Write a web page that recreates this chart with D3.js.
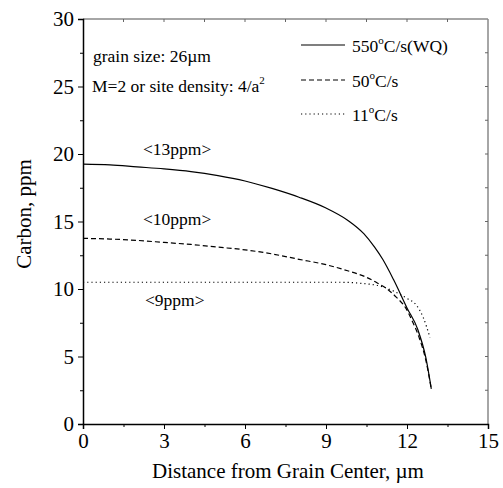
<!DOCTYPE html>
<html>
<head>
<meta charset="utf-8">
<script src="https://cdn.jsdelivr.net/npm/d3@7"></script>
<style>
  body { margin: 0; background: #fff; }
  svg text { font-family: "Liberation Serif", "Times New Roman", serif; fill: #000; }
</style>
</head>
<body>
<svg id="chart" width="503" height="488"></svg>
<script>
// carbon profiles across the grain, one per cooling rate
const distWQ = [0, 1, 2, 3, 4, 5, 6, 7, 8, 9, 9.8, 10.4, 10.8, 11.1, 11.5, 12.0, 12.4, 12.7, 12.9];
const carbonWQ = [19.25, 19.2, 19.05, 18.9, 18.7, 18.4, 18.0, 17.45, 16.8, 16.0, 15.1, 14.1, 13.1, 12.2, 10.7, 8.6, 7.0, 4.9, 2.6];

const dist50 = [0, 1, 2, 3, 4, 5, 6, 7, 8, 9, 9.8, 10.4, 10.9, 11.3, 11.6, 11.95, 12.2, 12.45, 12.7, 12.9];
const carbon50 = [13.75, 13.7, 13.6, 13.45, 13.3, 13.1, 12.9, 12.6, 12.2, 11.8, 11.35, 10.95, 10.45, 9.95, 9.4, 8.6, 7.6, 6.4, 4.7, 2.6];

const dist11 = [0, 2, 4, 6, 8, 9.5, 10.3, 11, 11.5, 12, 12.35, 12.6, 12.85];
const carbon11 = [10.5, 10.5, 10.5, 10.5, 10.5, 10.5, 10.42, 10.22, 9.85, 9.3, 8.8, 7.9, 6.4];

const seriesRates = ['550', '50', '11'];
const seriesSuffix = ['C/s(WQ)', 'C/s', 'C/s'];
const averages = ['<13ppm>', '<10ppm>', '<9ppm>'];

const xTicks = [0, 3, 6, 9, 12, 15];
const yTicks = [0, 5, 10, 15, 20, 25, 30];

const svg = d3.select('#chart');
const x = d3.scaleLinear().domain([0, 15]).range([83, 488]);
const y = d3.scaleLinear().domain([0, 30]).range([424, 19]);

// frame: top/right in grey
svg.append('line').attr('x1', 83).attr('x2', 488).attr('y1', 19).attr('y2', 19)
  .attr('stroke', '#888').attr('stroke-width', 1.5);
svg.append('line').attr('x1', 488).attr('x2', 488).attr('y1', 19).attr('y2', 424)
  .attr('stroke', '#888').attr('stroke-width', 1.5);
svg.append('g').selectAll('line').data(d3.range(1.5, 15, 1.5)).join('line')
  .attr('x1', d => x(d)).attr('x2', d => x(d)).attr('y1', 19).attr('y2', 22)
  .attr('stroke', '#666');
svg.append('g').selectAll('line').data(d3.range(2.5, 30, 2.5)).join('line')
  .attr('x1', 485).attr('x2', 488).attr('y1', d => y(d)).attr('y2', d => y(d))
  .attr('stroke', '#666');

// bottom axis
svg.append('g').attr('transform', 'translate(0,424)')
  .call(d3.axisBottom(x).tickValues(xTicks).tickSize(5).tickPadding(4).tickFormat(d3.format('d')));
svg.append('g').attr('transform', 'translate(0,424)')
  .call(d3.axisBottom(x).tickValues(d3.range(1.5, 15, 3)).tickSize(3).tickFormat(''))
  .select('.domain').remove();

// left axis
svg.append('g').attr('transform', 'translate(83,0)')
  .call(d3.axisLeft(y).tickValues(yTicks).tickSize(5).tickPadding(4).tickFormat(d3.format('d')));
svg.append('g').attr('transform', 'translate(83,0)')
  .call(d3.axisLeft(y).tickValues(d3.range(2.5, 30, 5)).tickSize(3).tickFormat(''))
  .select('.domain').remove();

svg.selectAll('.domain').attr('stroke', '#000').attr('stroke-width', 1.5);
svg.selectAll('.tick line').attr('stroke', '#000');
svg.selectAll('.tick text')
  .attr('font-family', '"Liberation Serif", serif').attr('font-size', 21).attr('fill', '#000');

// axis titles
svg.append('text').attr('x', 288).attr('y', 478).attr('text-anchor', 'middle')
  .attr('font-size', 21).text('Distance from Grain Center, \u00b5m');
svg.append('text').attr('transform', 'translate(31,214) rotate(-90)').attr('text-anchor', 'middle')
  .attr('font-size', 21).text('Carbon, ppm');

// curves
const line = d3.line().x(d => x(d[0])).y(d => y(d[1])).curve(d3.curveMonotoneX);
const series = [
  { pts: d3.zip(distWQ, carbonWQ), dash: null },
  { pts: d3.zip(dist50, carbon50), dash: '5,3' },
  { pts: d3.zip(dist11, carbon11), dash: '1.2,3' }
];
svg.append('g').selectAll('path').data(series).join('path')
  .attr('d', d => line(d.pts))
  .attr('fill', 'none').attr('stroke', '#000').attr('stroke-width', 1.2)
  .attr('stroke-dasharray', d => d.dash);

// average labels
const avgPos = [[143, 155], [143, 225], [145, 306]];
svg.append('g').selectAll('text').data(averages).join('text')
  .attr('x', (d, i) => avgPos[i][0]).attr('y', (d, i) => avgPos[i][1])
  .attr('font-size', 17.5).text(d => d);

// notes
svg.append('text').attr('x', 93).attr('y', 62).attr('font-size', 17.5).text('grain size: 26\u00b5m');
const note2 = svg.append('text').attr('x', 92).attr('y', 92).attr('font-size', 17.5);
note2.append('tspan').text('M=2 or site density: 4/a');
note2.append('tspan').attr('font-size', 11).attr('dy', -8).text('2');

// legend
const legY = [45, 80, 114];
const leg = svg.append('g').selectAll('g').data(seriesRates).join('g')
  .attr('transform', (d, i) => `translate(0,${legY[i]})`);
leg.append('line').attr('x1', 301).attr('x2', 345).attr('y1', 0).attr('y2', 0)
  .attr('stroke', '#000').attr('stroke-width', 1.2)
  .attr('stroke-dasharray', (d, i) => series[i].dash);
const lt = leg.append('text').attr('x', 352).attr('y', 7).attr('font-size', 17.5);
lt.append('tspan').text(d => d);
lt.append('tspan').attr('font-size', 11).attr('dy', -8).text('o');
lt.append('tspan').attr('dy', 8).text((d, i) => seriesSuffix[i]);
</script>
</body>
</html>
